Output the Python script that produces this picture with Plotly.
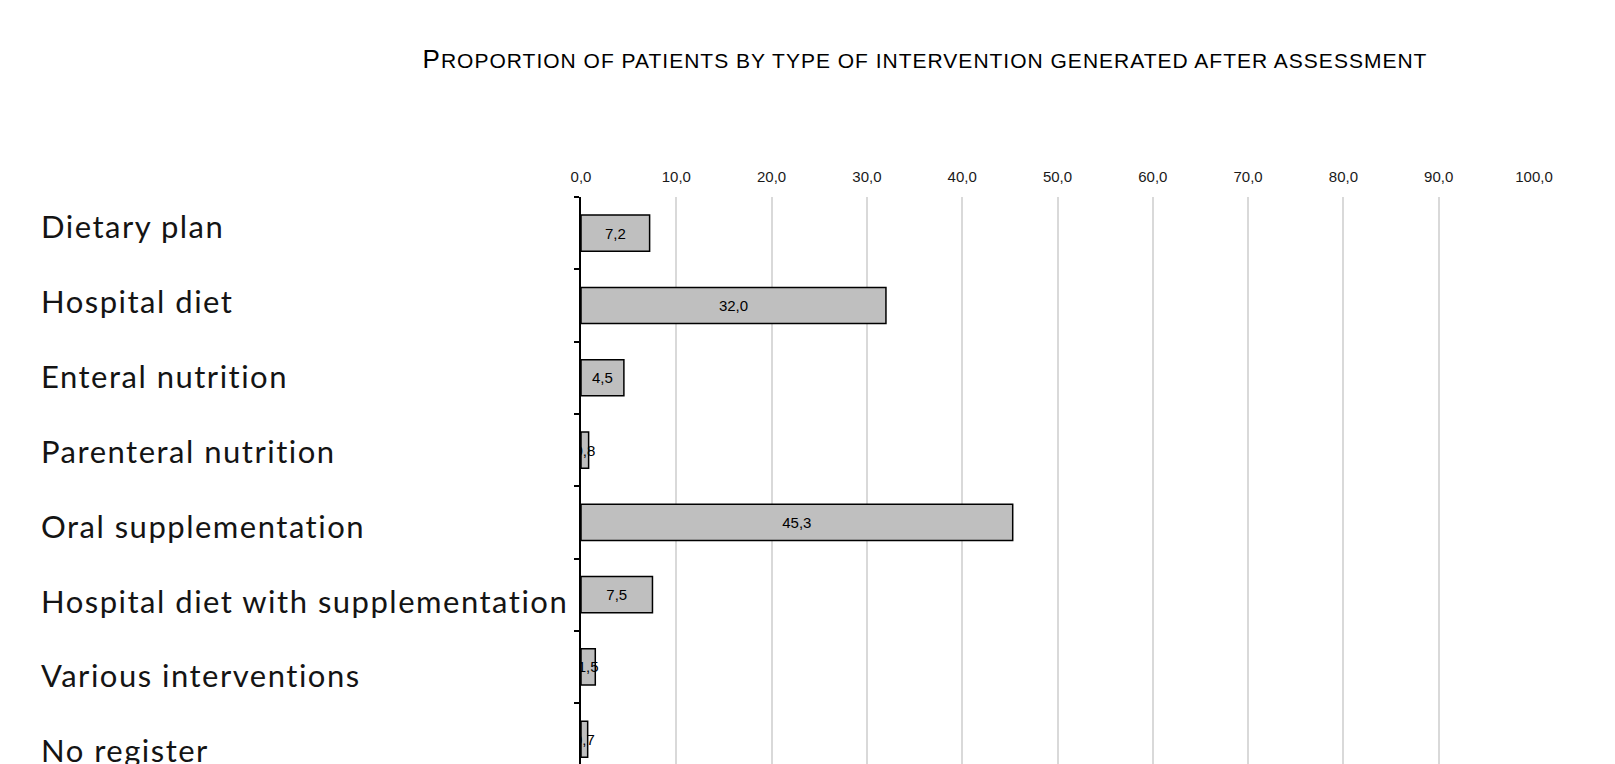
import plotly.graph_objects as go

# Interventions and share of patients (%)
categories = [
    "Dietary plan",
    "Hospital diet",
    "Enteral nutrition",
    "Parenteral nutrition",
    "Oral supplementation",
    "Hospital diet with supplementation",
    "Various interventions",
    "No register",
]
values = [7.2, 32.0, 4.5, 0.8, 45.3, 7.5, 1.5, 0.7]
x_ticks = [0, 10, 20, 30, 40, 50, 60, 70, 80, 90, 100]
title_text = "Proportion of patients by type of intervention generated after assessment"

W, H = 1615, 764
M_L, M_R, M_T, M_B = 40, 81, 197, 0
AXIS_X = 581                      # pixel position of the value-axis origin
plot_w = W - M_L - M_R
plot_h = H - M_T - M_B
x_dom0 = (AXIS_X - M_L) / plot_w

# bar rows: 72.3 px per category, first boundary at the top of the plot
row_px = 72.3
y_top = -0.5
y_bottom = y_top + plot_h / row_px

# label column: slightly looser spacing than the bar rows
lab_px = 74.9
lab_first_px = 226

idx = list(range(len(categories)))


def small_caps(text, big=26, small=21, spacing=1.0):
    """Initial capital followed by small capitals."""
    st = f"letter-spacing:{spacing}px"
    return f'<span style="font-size:{big}px;{st}">{text[0].upper()}</span>' \
           f'<span style="font-size:{small}px;{st}">{text[1:].upper()}</span>'


fig = go.Figure()
fig.add_trace(go.Bar(
    x=values,
    y=idx,
    orientation="h",
    width=0.5,
    marker=dict(color="#bfbfbf", line=dict(color="#000000", width=1.5)),
    texttemplate="%{x:.1f}",
    textposition="inside",
    insidetextanchor="middle",
    textangle=0,
    constraintext="none",
    textfont=dict(family="Liberation Sans, Arial", size=15, color="#000000"),
    cliponaxis=True,
    showlegend=False,
    hoverinfo="skip",
))

# category names, left-aligned in the margin column
annotations = []
for k, name in enumerate(categories):
    py = lab_first_px + lab_px * k
    annotations.append(dict(
        text=f'<span style="letter-spacing:1.5px">{name}</span>',
        xref="paper", x=0, xanchor="left",
        yref="paper", y=1 - (py - M_T) / plot_h, yanchor="middle",
        showarrow=False,
        borderpad=0,
        font=dict(family="Lato", size=31, color="#141414"),
    ))

fig.update_layout(
    width=W,
    height=H,
    margin=dict(l=M_L, r=M_R, t=M_T, b=M_B, pad=0),
    paper_bgcolor="white",
    plot_bgcolor="white",
    separators=", ",
    title=dict(
        text=small_caps(title_text),
        font=dict(family="Liberation Sans, Arial", size=21, color="#000000"),
        xref="container", x=925 / W, xanchor="center",
        yref="container", y=1 - 61 / H, yanchor="middle",
    ),
    annotations=annotations,
    xaxis=dict(
        domain=[x_dom0, 1],
        side="top",
        range=[0, 100],
        tickvals=x_ticks,
        tickformat=".1f",
        showgrid=True,
        gridcolor="#d9d9d9",
        gridwidth=2,
        zeroline=False,
        showline=False,
        ticks="",
        ticklabelstandoff=11,
        tickfont=dict(family="Liberation Sans, Arial", size=15, color="#1a1a1a"),
        fixedrange=True,
    ),
    yaxis=dict(
        range=[y_bottom, y_top],
        tickvals=[i - 0.5 for i in range(len(categories) + 1)],
        showticklabels=False,
        ticks="outside",
        ticklen=5,
        tickwidth=1.5,
        tickcolor="#000000",
        showline=True,
        linecolor="#000000",
        linewidth=2,
        showgrid=False,
        zeroline=False,
        fixedrange=True,
    ),
)

fig.write_html("out.html")
